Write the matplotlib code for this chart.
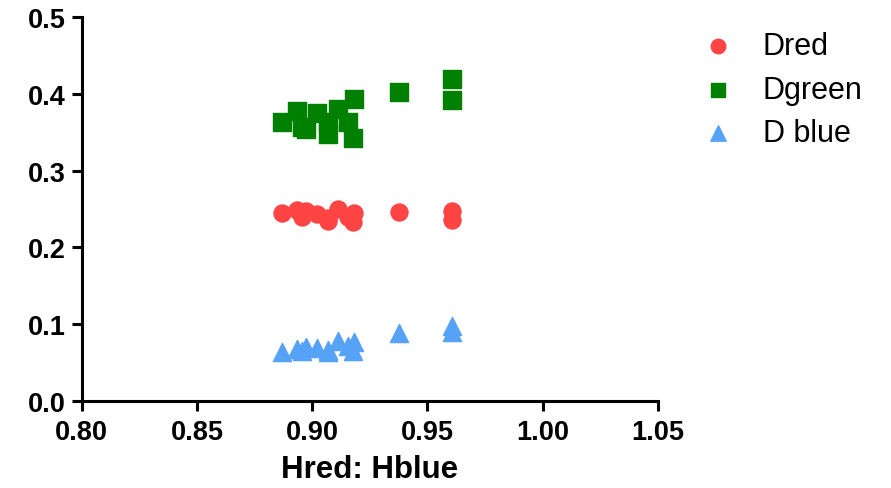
import matplotlib
matplotlib.use("Agg")
import matplotlib.pyplot as plt

plt.rcParams['font.family'] = ['Liberation Sans', 'DejaVu Sans']

# Data
hratio = [0.887, 0.8935, 0.8955, 0.8975, 0.902, 0.907, 0.907, 0.911, 0.9155, 0.9175, 0.918, 0.9375, 0.9605, 0.9605]
d_red = [0.2445, 0.249, 0.239, 0.2475, 0.243, 0.2345, 0.238, 0.250, 0.239, 0.2325, 0.2445, 0.2455, 0.2475, 0.2355]
d_green = [0.364, 0.378, 0.357, 0.354, 0.375, 0.363, 0.348, 0.381, 0.363, 0.3425, 0.394, 0.403, 0.419, 0.392]
d_blue = [0.064, 0.068, 0.065, 0.0695, 0.069, 0.064, 0.066, 0.078, 0.071, 0.065, 0.076, 0.088, 0.098, 0.089]

fig = plt.figure(figsize=(8.91, 4.89), dpi=100)
ax = fig.add_axes([0.0917, 0.1785, 0.6468, 0.7841])

ax.scatter(hratio, d_red, marker='o', s=150, color='#FF4444', label='Dred', zorder=3)
ax.scatter(hratio, d_green, marker='s', s=160, color='#008000', label='Dgreen', zorder=3)
ax.scatter(hratio, d_blue, marker='^', s=170, color='#55A2F7', label='D blue', zorder=3)

ax.set_xlim(0.80, 1.05)
ax.set_ylim(0.0, 0.5)
ax.set_xticks([0.80, 0.85, 0.90, 0.95, 1.00, 1.05])
ax.set_yticks([0.0, 0.1, 0.2, 0.3, 0.4, 0.5])
ax.set_xticklabels(['0.80', '0.85', '0.90', '0.95', '1.00', '1.05'])
ax.set_yticklabels(['0.0', '0.1', '0.2', '0.3', '0.4', '0.5'])
for lab in ax.get_xticklabels() + ax.get_yticklabels():
    lab.set_fontweight('bold')
    lab.set_fontsize(19.5)

ax.set_xlabel('Hred: Hblue', fontsize=22.5, fontweight='bold', labelpad=6)

ax.spines['top'].set_visible(False)
ax.spines['right'].set_visible(False)
ax.spines['left'].set_linewidth(2.2)
ax.spines['bottom'].set_linewidth(2.2)
ax.tick_params(width=2.2, length=7.5, direction='out')
ax.tick_params(axis='x', pad=6)
ax.tick_params(axis='y', pad=4)

fig.legend(loc='upper left', bbox_to_anchor=(703 / 891, 0.935), frameon=False,
           fontsize=22, handlelength=1.0, handletextpad=0.95, labelspacing=0.45,
           borderpad=0, borderaxespad=0, markerscale=0.85)

fig.savefig('out.png', dpi=100)
